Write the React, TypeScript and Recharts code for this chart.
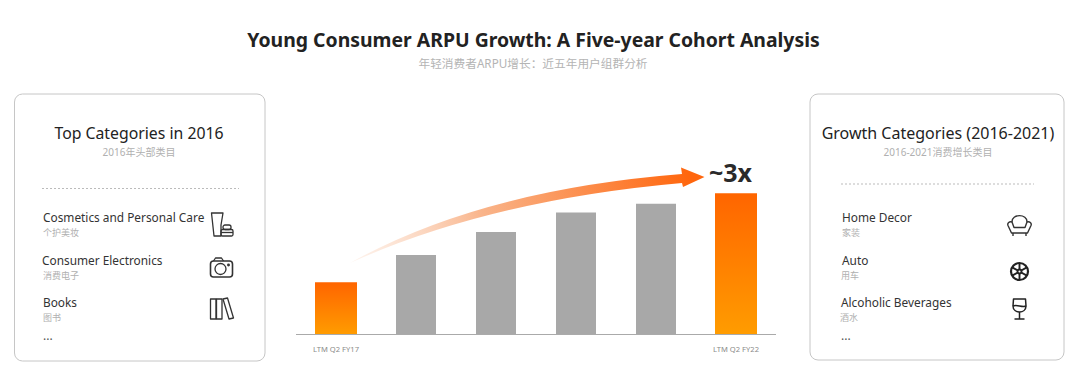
import { Bar, BarChart, Cell, Rectangle, XAxis, YAxis } from "recharts";

const categories = [
  "LTM Q2 FY17",
  "LTM Q2 FY18",
  "LTM Q2 FY19",
  "LTM Q2 FY20",
  "LTM Q2 FY21",
  "LTM Q2 FY22",
];
const arpuIndex = [1.0, 1.52, 1.96, 2.33, 2.5, 2.7];
const highlighted = ["LTM Q2 FY17", "LTM Q2 FY22"];

const topNames = ["Cosmetics and Personal Care", "Consumer Electronics", "Books"];
const topNamesZh = ["个护美妆", "消费电子", "图书"];
const growthNames = ["Home Decor", "Auto", "Alcoholic Beverages"];
const growthNamesZh = ["家装", "用车", "酒水"];

const chartData = categories.map((name, i) => ({ name, value: arpuIndex[i] }));

const latin = "'Noto Sans', sans-serif";
const cjk = "'Noto Sans', 'Noto Sans CJK SC', sans-serif";

const ICON = { fill: "none", stroke: "#333", strokeWidth: 1.3, strokeLinejoin: "round" as const };

function CosmeticsIcon() {
  return (
    <g {...ICON}>
      <path d="M-10 -12 H1.5 L-0.5 0 V11 H-7.5 Z" />
      <rect x="1.5" y="0" width="8" height="4.5" rx="2" />
      <rect x="-0.5" y="4.5" width="12" height="6.5" rx="1.5" />
      <path d="M-0.5 7.5 H11.5" />
    </g>
  );
}

function CameraIcon() {
  return (
    <g {...ICON}>
      <rect x="-11" y="-7" width="22" height="16" rx="3" strokeWidth={1.6} />
      <path d="M-8 -7 L-6 -10 H0 L2 -7" />
      <circle cx="-1" cy="1" r="5.5" />
      <circle cx="7" cy="-3" r="0.8" fill="#333" />
    </g>
  );
}

function BooksIcon() {
  return (
    <g {...ICON}>
      <rect x="-11" y="-10" width="5.5" height="20" />
      <rect x="-5" y="-10" width="5.5" height="20" />
      <path d="M1.5 -10 L6 -11 L12 9 L7.5 10 Z" />
    </g>
  );
}

function ChairIcon() {
  return (
    <g {...ICON} strokeWidth={1.4}>
      <path d="M-7.5 -4 C-8 -12.5 8 -12.5 7.5 -4" />
      <path d="M-7.5 -4 C-10 -5 -12.5 -3 -11.5 -0.5 L-8 7 H8 L11.5 -0.5 C12.5 -3 10 -5 7.5 -4 L5.5 1.5 H-5.5 Z" />
      <path d="M-6.5 7 V10 M6.5 7 V10" />
    </g>
  );
}

function WheelIcon() {
  return (
    <g fill="none" stroke="#222" strokeWidth={1.9}>
      <circle r="8.5" strokeWidth={2.2} />
      <circle r="2" />
      <path d="M0 -8.5 V-2 M0 2 V8.5 M-7.4 -4.2 L-1.7 -1 M1.7 1 L7.4 4.2 M-7.4 4.2 L-1.7 1 M1.7 -1 L7.4 -4.2" />
    </g>
  );
}

function GlassIcon() {
  return (
    <g {...ICON} stroke="#222" strokeWidth={1.5}>
      <path d="M-6 -10 H6 L6.5 -3 C6.5 5 -6.5 5 -6.5 -3 Z" />
      <path d="M-6.5 -3 C-3 -5 3 -1 6.5 -3" />
      <path d="M0 3 V10 M-5 10 H5" />
    </g>
  );
}

type PanelProps = {
  x: number;
  width: number;
  height: number;
  title: string;
  titleSize: number;
  subtitle: string;
  titleX: number;
  dashY: number;
  dashFrom: number;
  dashTo: number;
  textX: number[];
  zhX: number[];
  dotsX: number;
  iconX: number;
  iconY: number[];
  names: string[];
  namesZh: string[];
  icons: React.ReactNode[];
};

function Panel(props: PanelProps) {
  const rowY = [221.5, 264.5, 306.5];
  return (
    <g>
      <rect
        x={props.x}
        y={94}
        width={props.width}
        height={props.height}
        rx={8}
        fill="#fff"
        stroke="#c6c6c6"
        strokeWidth={1}
      />
      <text
        x={props.titleX}
        y={139}
        textAnchor="middle"
        fontFamily={latin}
        fontSize={props.titleSize}
        fill="#222"
      >
        {props.title}
      </text>
      <text x={props.titleX} y={156} textAnchor="middle" fontFamily={cjk} fontSize={10} fill="#b0b0b0">
        {props.subtitle}
      </text>
      <line
        x1={props.dashFrom}
        x2={props.dashTo}
        y1={props.dashY}
        y2={props.dashY}
        stroke="#aaa"
        strokeWidth={0.8}
        strokeDasharray="2 2"
      />
      {props.names.map((name, i) => (
        <g key={name}>
          <text x={props.textX[i]} y={rowY[i]} fontFamily={latin} fontSize={11.85} fill="#333">
            {name}
          </text>
          <text x={props.zhX[i]} y={rowY[i] + 14} fontFamily={cjk} fontSize={9} fill="#b0b0b0">
            {props.namesZh[i]}
          </text>
          <g transform={`translate(${props.iconX} ${props.iconY[i]})`}>{props.icons[i]}</g>
        </g>
      ))}
      <text x={props.dotsX} y={340} fontFamily={latin} fontSize={12} fill="#555">
        ...
      </text>
    </g>
  );
}

function BarShape(props: any) {
  // the two orange bars are a touch wider than the grey ones
  const wide = highlighted.includes(props.name);
  return (
    <Rectangle
      {...props}
      x={wide ? props.x - 1 : props.x}
      width={wide ? props.width + 2 : props.width}
    />
  );
}

export default function App() {
  return (
    <div
      style={{
        position: "absolute",
        left: 0,
        top: 0,
        width: 1080,
        height: 377,
        overflow: "hidden",
        background: "#fff",
      }}
    >
      <svg width={1080} height={377} style={{ position: "absolute", left: 0, top: 0 }}>
        <text
          x={533.5}
          y={47}
          textAnchor="middle"
          fontFamily={latin}
          fontWeight={700}
          fontSize={19.4}
          fill="#222"
        >
          Young Consumer ARPU Growth: A Five-year Cohort Analysis
        </text>
        <text x={533} y={68} textAnchor="middle" fontFamily={cjk} fontSize={11.7} fill="#b4b4b4">
          年轻消费者ARPU增长：近五年用户组群分析
        </text>
        <Panel
          x={14.5}
          width={250.5}
          height={267}
          title="Top Categories in 2016"
          titleSize={15.8}
          subtitle="2016年头部类目"
          titleX={139}
          dashY={188.5}
          dashFrom={42}
          dashTo={239}
          textX={[43, 42, 43]}
          zhX={[43, 43, 43]}
          dotsX={43}
          iconX={221.5}
          iconY={[225, 268, 309]}
          names={topNames}
          namesZh={topNamesZh}
          icons={[<CosmeticsIcon />, <CameraIcon />, <BooksIcon />]}
        />
        <Panel
          x={810}
          width={254}
          height={266}
          title="Growth Categories (2016-2021)"
          titleSize={16}
          subtitle="2016-2021消费增长类目"
          titleX={938}
          dashY={184}
          dashFrom={841}
          dashTo={1034}
          textX={[842, 842, 841]}
          zhX={[842, 841, 840]}
          dotsX={841}
          iconX={1019.5}
          iconY={[226, 271.5, 309]}
          names={growthNames}
          namesZh={growthNamesZh}
          icons={[<ChairIcon />, <WheelIcon />, <GlassIcon />]}
        />
      </svg>

      <div style={{ position: "absolute", left: 0, top: 0 }}>
        <BarChart
          width={1080}
          height={377}
          data={chartData}
          margin={{ top: 177.5, right: 304, bottom: 12.5, left: 296 }}
          barCategoryGap="50%"
        >
          <defs>
            <linearGradient id="orangeBar" x1="0" y1="0" x2="0" y2="1">
              <stop offset="0%" stopColor="#ff6500" />
              <stop offset="100%" stopColor="#ff9c00" />
            </linearGradient>
          </defs>
          <XAxis
            dataKey="name"
            interval={0}
            height={30}
            tickLine={false}
            axisLine={{ stroke: "#aaa", strokeWidth: 1 }}
            tick={{ fill: "#8a8a8a", fontSize: 7.6, fontFamily: latin }}
            tickMargin={6}
            tickFormatter={(value: string) => (highlighted.includes(value) ? value : "")}
          />
          <YAxis hide domain={[0, 3]} />
          <Bar dataKey="value" barSize={40} isAnimationActive={false} shape={<BarShape />}>
            {chartData.map((d) => (
              <Cell key={d.name} fill={highlighted.includes(d.name) ? "url(#orangeBar)" : "#a8a8a8"} />
            ))}
          </Bar>
        </BarChart>
      </div>

      <svg
        width={1080}
        height={377}
        style={{ position: "absolute", left: 0, top: 0, pointerEvents: "none" }}
      >
        <defs>
          <linearGradient id="arrowFade" gradientUnits="userSpaceOnUse" x1="350" y1="263" x2="690" y2="177">
            <stop offset="0%" stopColor="#fbd9c4" stopOpacity={0.3} />
            <stop offset="40%" stopColor="#f9b48a" />
            <stop offset="100%" stopColor="#ff660d" />
          </linearGradient>
        </defs>
        <path
          d="M350 263 Q480 190 682 174 L681 167.5 L704.5 177 L683 187 L682 183 Q490 200 350 263 Z"
          fill="url(#arrowFade)"
        />
        <text x={709} y={182} fontFamily={latin} fontWeight={700} fontSize={25} fill="#2a2a2a">
          ~3x
        </text>
      </svg>
    </div>
  );
}
